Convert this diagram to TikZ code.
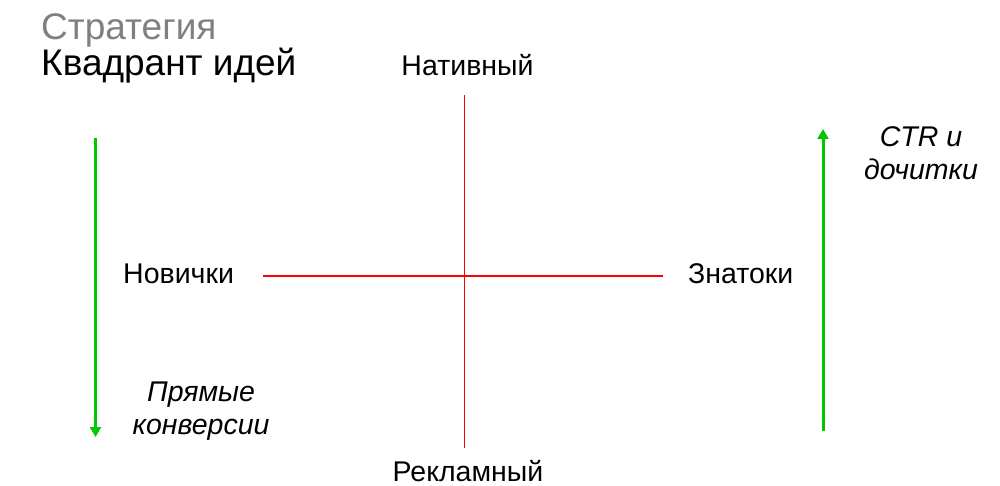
\documentclass[tikz,border=0pt]{standalone}
\usepackage{fontspec}
\setmainfont{Liberation Sans}
\usetikzlibrary{arrows.meta}
\definecolor{arrgreen}{RGB}{0,200,0}
\definecolor{axisred}{RGB}{255,0,0}
\definecolor{titlegray}{RGB}{128,128,128}
\begin{document}
\begin{tikzpicture}[x=1pt,y=-1pt,
  lbl/.style={inner sep=0pt,font=\fontsize{28.5}{33}\selectfont},
  itlbl/.style={inner sep=0pt,align=center,font=\fontsize{28.5}{33}\selectfont\itshape},
  ttl/.style={inner sep=0pt,anchor=base west,align=left,font=\fontsize{37}{33}\selectfont},
  axisline/.style={draw=axisred,line width=1.3pt},
  trend/.style={draw=arrgreen,line width=3pt,-{Triangle[width=11pt,length=10pt]}}]
\useasboundingbox (0,0) rectangle (1000,486);
\fill[white] (0,0) rectangle (1000,486);
% title
\node[ttl] (title) at (41,76) {{\color{titlegray}Стратегия}\\Квадрант идей};
% axes
\coordinate (vtop) at (464.5,95);
\coordinate (vbot) at (464.5,448);
\coordinate (hl) at (263,276);
\coordinate (hr) at (663,276);
\draw[axisline] (vtop) -- (vbot);
\draw[axisline] (hl) -- (hr);
% labels
\node[lbl,anchor=base] (nat) at (467.5,76) {Нативный};
\node[lbl,anchor=base] (rek) at (468,481) {Рекламный};
\node[lbl,anchor=base west] (nov) at (123,283) {Новички};
\node[lbl,anchor=base west] (zna) at (688,283) {Знатоки};
% trend arrows
\coordinate (ls) at (95.5,138);
\coordinate (le) at (95.5,437);
\coordinate (rs) at (823,431);
\coordinate (re) at (823,129);
\draw[trend] (ls) -- (le);
\draw[trend] (rs) -- (re);
\node[itlbl,anchor=base] (pk) at (201,434) {Прямые\\конверсии};
\node[itlbl,anchor=base] (ctr) at (921,180) {CTR и\\дочитки};
\end{tikzpicture}
\end{document}
